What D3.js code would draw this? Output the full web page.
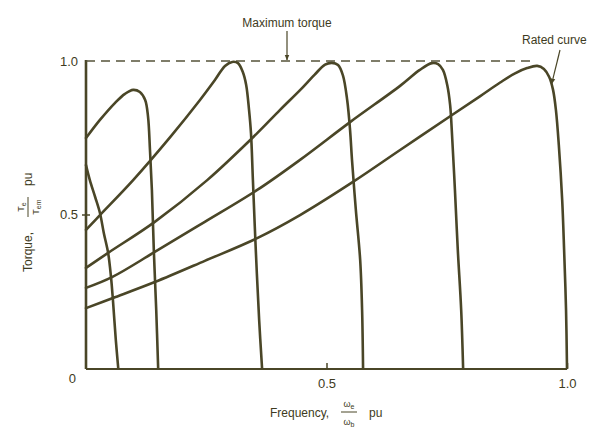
<!DOCTYPE html>
<html>
<head>
<meta charset="utf-8">
<script src="https://cdn.jsdelivr.net/npm/d3@7"></script>
<style>
  html, body { margin: 0; padding: 0; background: #ffffff; }
  svg { display: block; }
  text { font-family: "Liberation Sans", Arial, sans-serif; fill: #3e3b22; }
</style>
</head>
<body>
<svg id="chart" width="594" height="430"></svg>
<script>
// Torque (pu of maximum) versus frequency (pu of base) for a family of
// operating curves; each pair is [frequency, torque].
const curveA = [[0,0.661],[0.008,0.612],[0.019,0.557],[0.029,0.505],[0.037,0.440],[0.046,0.375],[0.052,0.296],[0.056,0.221],[0.062,0.091],[0.067,0]];
const curveB = [[0,0.749],[0.029,0.808],[0.060,0.863],[0.081,0.893],[0.098,0.906],[0.112,0.899],[0.123,0.873],[0.129,0.818],[0.133,0.710],[0.137,0.580],[0.141,0.384],[0.146,0.189],[0.150,0]];
const curveC = [[0,0.450],[0.029,0.498],[0.098,0.612],[0.175,0.752],[0.237,0.873],[0.268,0.938],[0.289,0.984],[0.304,0.997],[0.316,0.993],[0.326,0.964],[0.333,0.922],[0.339,0.840],[0.343,0.765],[0.347,0.612],[0.353,0.384],[0.360,0.156],[0.366,0]];
const curveD = [[0,0.326],[0.046,0.375],[0.143,0.476],[0.252,0.612],[0.356,0.765],[0.403,0.840],[0.445,0.905],[0.475,0.955],[0.497,0.988],[0.511,0.994],[0.524,0.987],[0.534,0.954],[0.543,0.873],[0.549,0.775],[0.553,0.678],[0.561,0.515],[0.570,0.352],[0.574,0.189],[0.576,0]];
const curveE = [[0,0.261],[0.054,0.296],[0.143,0.378],[0.247,0.476],[0.356,0.580],[0.445,0.678],[0.549,0.801],[0.653,0.919],[0.694,0.971],[0.719,0.993],[0.732,0.990],[0.742,0.971],[0.751,0.922],[0.757,0.857],[0.761,0.759],[0.767,0.580],[0.773,0.384],[0.780,0.189],[0.784,0]];
const ratedCurve = [[0,0.195],[0.056,0.228],[0.143,0.280],[0.247,0.349],[0.356,0.423],[0.445,0.498],[0.555,0.606],[0.653,0.710],[0.761,0.824],[0.819,0.885],[0.861,0.930],[0.892,0.960],[0.917,0.977],[0.938,0.984],[0.952,0.974],[0.963,0.948],[0.971,0.906],[0.977,0.840],[0.983,0.726],[0.990,0.547],[0.994,0.384],[0.998,0.189],[1.0,0]];

const curves = [curveA, curveB, curveC, curveD, curveE, ratedCurve];

const maxTorque = 1.0;          // dashed limit line
const maxTorqueEnd = 0.93;      // frequency where the dashed line stops
const xTicks = [0.5, 1.0];
const xTickLabels = ["0.5", "1.0"];
const yTicks = [0.5, 1.0];
const yTickLabels = ["0.5", "1.0"];

const ink = "#4a4627";
const svg = d3.select("#chart");

const x = d3.scaleLinear().domain([0, 1]).range([86, 567]);
const y = d3.scaleLinear().domain([0, 1]).range([368, 61]);

// Axis frame: left and bottom
svg.append("line")
  .attr("x1", x(0)).attr("x2", x(0))
  .attr("y1", y(0) + 1).attr("y2", y(1) - 1)
  .attr("stroke", ink).attr("stroke-width", 2.6);
svg.append("line")
  .attr("x1", x(0)).attr("x2", x(1))
  .attr("y1", y(0) + 1).attr("y2", y(0) + 1)
  .attr("stroke", ink).attr("stroke-width", 2);

// Y axis ticks and labels
const yAxis = d3.axisLeft(y)
  .tickValues(yTicks)
  .tickFormat((d, i) => yTickLabels[i])
  .tickSizeOuter(0)
  .tickSizeInner(4)
  .tickPadding(4);
const gy = svg.append("g").attr("transform", `translate(${x(0)},0)`).call(yAxis);
gy.select(".domain").remove();
gy.selectAll(".tick line")
  .attr("x1", -4).attr("x2", 4)
  .attr("stroke", ink).attr("stroke-width", 1.5)
  .attr("opacity", d => d === 1.0 ? 0 : 1);
gy.selectAll(".tick text")
  .attr("font-size", 13).attr("fill", "#3e3b22")
  .attr("font-family", "Liberation Sans, Arial, sans-serif");

// X axis ticks and labels
const xAxis = d3.axisBottom(x)
  .tickValues(xTicks)
  .tickFormat((d, i) => xTickLabels[i])
  .tickSizeOuter(0)
  .tickSizeInner(-6)
  .tickPadding(10);
const gx = svg.append("g").attr("transform", `translate(0,${y(0) + 1})`).call(xAxis);
gx.select(".domain").remove();
gx.selectAll(".tick line").attr("stroke", ink).attr("stroke-width", 1.5);
gx.selectAll(".tick text")
  .attr("font-size", 13).attr("fill", "#3e3b22")
  .attr("font-family", "Liberation Sans, Arial, sans-serif");

// Origin label
svg.append("text")
  .attr("x", x(0) - 10).attr("y", y(0) + 15)
  .attr("text-anchor", "end")
  .attr("font-size", 13)
  .text("0");

// Maximum torque dashed line
svg.append("line")
  .attr("x1", x(0)).attr("x2", x(maxTorqueEnd))
  .attr("y1", y(maxTorque)).attr("y2", y(maxTorque))
  .attr("stroke", "#55533a").attr("stroke-width", 1.6)
  .attr("stroke-dasharray", "9,6");

// Curves
const line = d3.line()
  .x(d => x(d[0]))
  .y(d => y(d[1]))
  .curve(d3.curveCatmullRom.alpha(0.5));

svg.selectAll("path.curve")
  .data(curves)
  .join("path")
  .attr("class", "curve")
  .attr("d", line)
  .attr("fill", "none")
  .attr("stroke", ink)
  .attr("stroke-width", 2.6)
  .attr("stroke-linejoin", "round")
  .attr("stroke-linecap", "round");

// Arrowhead marker for annotations
svg.append("defs").append("marker")
  .attr("id", "arrow")
  .attr("viewBox", "0 0 10 10")
  .attr("refX", 9).attr("refY", 5)
  .attr("markerWidth", 5).attr("markerHeight", 5)
  .attr("orient", "auto")
  .append("path")
  .attr("d", "M0,1 L10,5 L0,9 Z")
  .attr("fill", ink);

// "Maximum torque" annotation
svg.append("text")
  .attr("x", 287).attr("y", 27)
  .attr("text-anchor", "middle")
  .attr("font-size", 12)
  .text("Maximum torque");
svg.append("line")
  .attr("x1", 287).attr("x2", 287)
  .attr("y1", 31).attr("y2", y(maxTorque) - 1)
  .attr("stroke", ink).attr("stroke-width", 1.2)
  .attr("marker-end", "url(#arrow)");

// "Rated curve" annotation
svg.append("text")
  .attr("x", 522).attr("y", 44)
  .attr("font-size", 12)
  .text("Rated curve");
svg.append("line")
  .attr("x1", 560).attr("y1", 50)
  .attr("x2", x(0.968)).attr("y2", y(0.925))
  .attr("stroke", ink).attr("stroke-width", 1.2)
  .attr("marker-end", "url(#arrow)");

// X axis title: Frequency, ωe/ωb pu
const xt = svg.append("g").attr("font-size", 12);
xt.append("text").attr("x", 270).attr("y", 417).text("Frequency,");
xt.append("line")
  .attr("x1", 341).attr("x2", 357).attr("y1", 412).attr("y2", 412)
  .attr("stroke", ink).attr("stroke-width", 1);
xt.append("text").attr("x", 349).attr("y", 407).attr("text-anchor", "middle").attr("font-size", 9)
  .html('ω<tspan font-size="7" dy="2">e</tspan>');
xt.append("text").attr("x", 349).attr("y", 425).attr("text-anchor", "middle").attr("font-size", 9)
  .html('ω<tspan font-size="7" dy="2">b</tspan>');
xt.append("text").attr("x", 369).attr("y", 417).text("pu");

// Y axis title: Torque, Te/Tem pu (rotated)
const yt = svg.append("g")
  .attr("transform", "translate(32,272) rotate(-90)")
  .attr("font-size", 12);
yt.append("text").attr("x", 0).attr("y", 0).text("Torque,");
yt.append("line")
  .attr("x1", 55).attr("x2", 75).attr("y1", -4).attr("y2", -4)
  .attr("stroke", ink).attr("stroke-width", 1);
yt.append("text").attr("x", 65).attr("y", -8).attr("text-anchor", "middle").attr("font-size", 9)
  .html('T<tspan font-size="7" dy="2">e</tspan>');
yt.append("text").attr("x", 65).attr("y", 7).attr("text-anchor", "middle").attr("font-size", 9)
  .html('T<tspan font-size="7" dy="2">em</tspan>');
yt.append("text").attr("x", 86).attr("y", 0).text("pu");
</script>
</body>
</html>
